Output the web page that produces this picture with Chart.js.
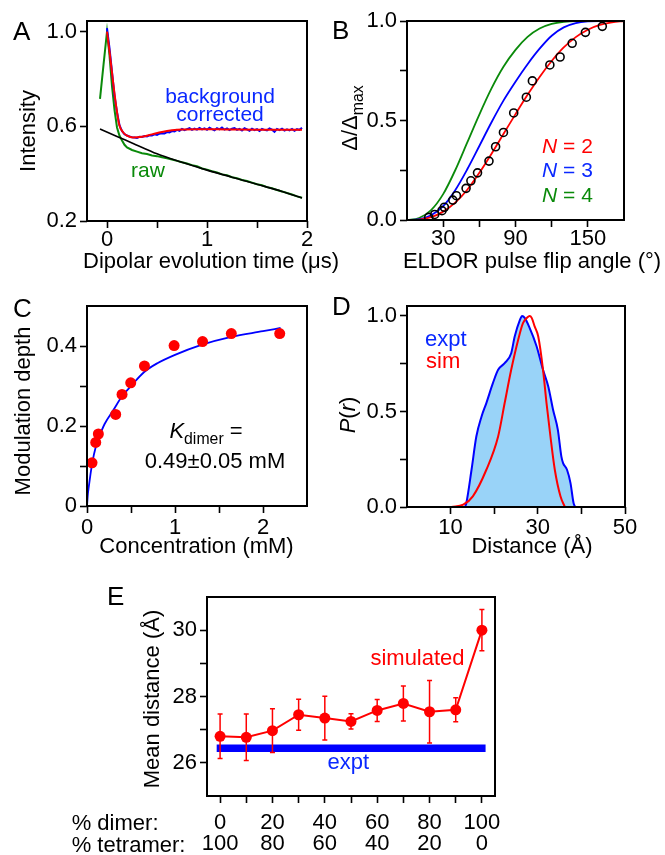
<!DOCTYPE html>
<html>
<head>
<meta charset="utf-8">
<title>DEER analysis panels</title>
<script src="https://cdn.jsdelivr.net/npm/chart.js@4.4.1/dist/chart.umd.min.js"></script>
<style>
  html, body { margin: 0; padding: 0; background: #fff; }
  #fig { position: relative; width: 665px; height: 855px; overflow: hidden; background: #fff; }
  #fig canvas { position: absolute; left: 0; top: 0; }
</style>
</head>
<body>
<div id="fig"></div>
<script>
// ===== Panel A: dipolar evolution traces (time in µs) =====
const rawTime = [-0.07,-0.035,0,0.025,0.05,0.075,0.1,0.125,0.15,0.175,0.2,0.25,0.3,0.35,0.4,0.45,0.5,0.55,0.6,0.65,0.7,0.75,0.8,0.85,0.9,0.95,1.0,1.05,1.1,1.15,1.2,1.25,1.3,1.35,1.4,1.45,1.5,1.55,1.6,1.65,1.7,1.75,1.8,1.85,1.9,1.95];
const rawIntensity = [0.716,0.86,1.0,0.9,0.77,0.67,0.595,0.56,0.54,0.522,0.511,0.5,0.493,0.486,0.483,0.477,0.474,0.469,0.465,0.46,0.454,0.448,0.443,0.436,0.431,0.422,0.417,0.41,0.405,0.397,0.393,0.385,0.381,0.373,0.369,0.362,0.355,0.351,0.343,0.338,0.331,0.325,0.318,0.312,0.304,0.298];
const baselineTime = [-0.07,0.1,0.25,0.5,0.75,1.0,1.25,1.5,1.75,1.95];
const baselineIntensity = [0.589,0.557,0.53,0.484,0.448,0.415,0.385,0.355,0.325,0.297];
const correctedTime = [0,0.025,0.05,0.075,0.1,0.125,0.15,0.175,0.2,0.225,0.25,0.275,0.3,0.325,0.35,0.375,0.4,0.425,0.45,0.475,0.5,0.525,0.55,0.575,0.6,0.625,0.65,0.675,0.7,0.725,0.75,0.775,0.8,0.825,0.85,0.875,0.9,0.925,0.95,0.975,1.0,1.025,1.05,1.075,1.1,1.125,1.15,1.175,1.2,1.225,1.25,1.275,1.3,1.325,1.35,1.375,1.4,1.425,1.45,1.475,1.5,1.525,1.55,1.575,1.6,1.625,1.65,1.675,1.7,1.725,1.75,1.775,1.8,1.825,1.85,1.875,1.9,1.925,1.95];
const correctedIntensity = [1.015,0.93,0.83,0.73,0.66,0.605,0.58,0.567,0.561,0.557,
  0.554,0.553,0.551,0.556,0.555,0.559,0.557,0.562,0.561,0.566,
  0.564,0.569,0.571,0.57,0.576,0.574,0.58,0.578,0.585,0.581,
  0.589,0.584,0.588,0.592,0.585,0.59,0.586,0.593,0.587,0.591,
  0.585,0.594,0.588,0.583,0.592,0.587,0.595,0.586,0.591,0.584,
  0.59,0.593,0.585,0.589,0.582,0.592,0.587,0.581,0.59,0.584,
  0.588,0.58,0.589,0.585,0.583,0.591,0.586,0.577,0.589,0.584,
  0.59,0.582,0.587,0.583,0.589,0.581,0.588,0.585,0.594];
const fitTime = [0,0.03,0.06,0.09,0.12,0.16,0.2,0.26,0.35,0.45,0.55,0.65,0.75,0.9,1.2,1.5,1.95];
const fitIntensity = [1.0,0.9,0.79,0.69,0.61,0.575,0.561,0.553,0.556,0.566,0.576,0.583,0.587,0.588,0.587,0.586,0.586];
const timeTicks = [0, 0.5, 1, 1.5, 2];
const timeTickLabels = ['0', '', '1', '', '2'];
const intensityTicks = [0.2, 0.6, 1.0];
const intensityTickLabels = ['0.2', '0.6', '1.0'];

// ===== Panel B: modulation depth vs ELDOR flip angle =====
const flipAngleCurve = [0,10,20,30,40,50,60,70,80,90,100,110,120,130,140,150,160,170,180];
const depthN2 = [0,0.002,0.014,0.042,0.087,0.152,0.237,0.332,0.432,0.532,0.629,0.719,0.799,0.867,0.919,0.956,0.98,0.993,1.0];
const depthN3 = [0,0.004,0.024,0.07,0.15,0.255,0.372,0.49,0.6,0.695,0.783,0.861,0.926,0.968,0.989,0.998,1.0,1.0,1.0];
const depthN4 = [0,0.01,0.05,0.13,0.25,0.39,0.53,0.66,0.77,0.855,0.92,0.962,0.985,0.996,1.0,1.0,1.0,1.0,1.0];
const flipAngleExpt = [18,23,29,31,38,41,49,53,58.5,68,73.5,80,88.5,99,104,118.5,127,137,148,162];
const depthExpt = [0.013,0.028,0.047,0.064,0.10,0.122,0.159,0.197,0.237,0.296,0.368,0.44,0.538,0.617,0.699,0.779,0.819,0.888,0.943,0.973];
const angleTicks = [30, 60, 90, 120, 150];
const angleTickLabels = ['30', '', '90', '', '150'];
const ratioTicks = [0, 0.25, 0.5, 0.75, 1];
const ratioTickLabels = ['0.0', '', '0.5', '', '1.0'];

// ===== Panel C: modulation depth vs concentration =====
const concentration = [0.057,0.099,0.129,0.326,0.398,0.497,0.653,0.99,1.313,1.64,2.19];
const modDepth = [0.108,0.159,0.18,0.229,0.279,0.308,0.35,0.401,0.411,0.431,0.431];
const concentrationFit = [0,0.01,0.02,0.04,0.06,0.1,0.13,0.2,0.3,0.4,0.5,0.65,0.8,1.0,1.3,1.64,2.0,2.2];
const modDepthFit = [0,0.03,0.048,0.08,0.108,0.148,0.168,0.205,0.24,0.275,0.3,0.335,0.357,0.378,0.403,0.423,0.437,0.445];
const concTicks = [0, 0.5, 1, 1.5, 2];
const concTickLabels = ['0', '', '1', '', '2'];
const depthTicks = [0, 0.1, 0.2, 0.3, 0.4];
const depthTickLabels = ['0', '', '0.2', '', '0.4'];

// ===== Panel D: distance distributions =====
const distanceExpt = [13.3,13.6,14.8,15.9,17.1,18.2,19.7,20.9,22.4,23.9,24.7,25.9,26.4,27.0,28.0,29.7,31.2,32.4,33.5,34.6,35.4,35.8,36.7,37.5,38.2,38.6];
const probExpt = [0,0.02,0.195,0.369,0.474,0.544,0.648,0.718,0.753,0.805,0.892,0.979,1.0,0.99,0.944,0.843,0.718,0.631,0.509,0.404,0.265,0.23,0.195,0.125,0.021,0];
const distanceSim = [10.2,12.9,15.1,18.2,20.9,22.4,23.9,25.5,26.6,27.6,28.1,28.6,29.3,30.1,31.2,32.0,32.9,33.9,35.2,36.2];
const probSim = [0,0.012,0.056,0.195,0.369,0.544,0.718,0.875,0.962,0.992,1.0,0.99,0.944,0.892,0.718,0.544,0.369,0.195,0.056,0];
const distTicks = [10, 20, 30, 40, 50];
const distTickLabels = ['10', '', '30', '', '50'];
const probTicks = [0, 0.25, 0.5, 0.75, 1];
const probTickLabels = ['0.0', '', '0.5', '', '1.0'];

// ===== Panel E: mean distance vs dimer/tetramer mixture =====
const dimerPercent = [0,10,20,30,40,50,60,70,80,90,100];
const meanDistance = [26.8,26.77,26.97,27.45,27.35,27.25,27.58,27.79,27.54,27.6,30.0];
const meanDistanceErr = [0.67,0.7,0.66,0.47,0.66,0.23,0.33,0.53,0.94,0.36,0.62];
const exptMeanDistance = 26.44;
const exptSpan = [-1.3, 101.4];
const mixTicks = [0,10,20,30,40,50,60,70,80,90,100];
const dimerTickLabels = ['0','','20','','40','','60','','80','','100'];
const tetramerTickLabels = ['100','','80','','60','','40','','20','','0'];
const meanTicks = [26, 27, 28, 29, 30];
const meanTickLabels = ['26', '', '28', '', '30'];

// ---------------------------------------------------------------
const W = 665, H = 855;
const FONT = '"Liberation Sans", Arial, Helvetica, sans-serif';
const RED = '#ff0000', BLUE = '#0000ff', GREEN = '#0a8a0a', TXTBLUE = '#0a28ff';
const fig = document.getElementById('fig');

const pts = (xs, ys) => xs.map((x, i) => ({ x, y: ys[i] }));
const fontStr = (size, italic) => (italic ? 'italic ' : '') + size + 'px ' + FONT;

// draws a label made of plain / italic / subscript runs
function drawRich(ctx, it) {
  const size = it.size || 22;
  const segs = it.segs || [{ t: it.text }];
  const parts = segs.map(s => {
    const sz = s.sub ? size * 0.72 : size;
    ctx.font = fontStr(sz, s.it);
    return Object.assign({}, s, { sz, w: ctx.measureText(s.t).width });
  });
  const total = parts.reduce((a, p) => a + p.w, 0);
  ctx.save();
  ctx.translate(it.x, it.y);
  if (it.rot) ctx.rotate(-Math.PI / 2);
  let x0 = it.align === 'left' ? 0 : -total / 2;
  ctx.fillStyle = it.color || '#000';
  ctx.textAlign = 'left';
  ctx.textBaseline = 'alphabetic';
  for (const p of parts) {
    ctx.font = fontStr(p.sz, p.it);
    ctx.fillText(p.t, x0, p.sub ? size * 0.28 : 0);
    x0 += p.w;
  }
  ctx.restore();
}

const framePlugin = {
  id: 'frame',
  afterDraw(chart) {
    const { ctx, chartArea: a } = chart;
    ctx.save();
    ctx.strokeStyle = '#000';
    ctx.lineWidth = 2;
    ctx.strokeRect(a.left, a.top, a.right - a.left, a.bottom - a.top);
    ctx.restore();
  }
};

const textPlugin = {
  id: 'texts',
  afterDraw(chart, args, opts) {
    (opts.items || []).forEach(it => drawRich(chart.ctx, it));
  }
};

// vertical error bars drawn just beneath the dataset they belong to
const errorBarPlugin = {
  id: 'errorBars',
  beforeDatasetDraw(chart, args, opts) {
    if (args.index !== opts.datasetIndex) return;
    const { ctx, scales: { x, y } } = chart;
    ctx.save();
    ctx.strokeStyle = opts.color;
    ctx.lineWidth = 1.5;
    opts.xs.forEach((v, i) => {
      const px = x.getPixelForValue(v);
      const top = y.getPixelForValue(opts.ys[i] + opts.err[i]);
      const bot = y.getPixelForValue(opts.ys[i] - opts.err[i]);
      ctx.beginPath();
      ctx.moveTo(px, top); ctx.lineTo(px, bot);
      ctx.moveTo(px - 2.5, top); ctx.lineTo(px + 2.5, top);
      ctx.moveTo(px - 2.5, bot); ctx.lineTo(px + 2.5, bot);
      ctx.stroke();
    });
    ctx.restore();
  }
};

function axis(min, max, ticks, labels, pad, lineHeight) {
  return {
    type: 'linear', min, max,
    afterBuildTicks: s => { s.ticks = ticks.map(v => ({ value: v })); },
    ticks: {
      autoSkip: false, maxRotation: 0, minRotation: 0, padding: pad, color: '#000',
      font: { family: FONT, size: 22, lineHeight: lineHeight || 1 },
      callback: (v, i) => labels[i]
    },
    grid: { drawOnChartArea: false, drawTicks: true, tickLength: 7, tickWidth: 1.6, tickColor: '#000', color: '#000' },
    border: { display: false }
  };
}

function panel(box, xAxis, yAxis, datasets, texts, extra) {
  const c = document.createElement('canvas');
  c.width = W; c.height = H;
  c.style.width = W + 'px'; c.style.height = H + 'px';
  fig.appendChild(c);
  xAxis.afterFit = s => { s.height = H - box.b; };
  yAxis.afterFit = s => { s.width = box.l; };
  const pluginOpts = { legend: { display: false }, tooltip: { enabled: false }, texts: { items: texts } };
  const plugins = [framePlugin, textPlugin];
  if (extra) { pluginOpts.errorBars = extra; plugins.push(errorBarPlugin); }
  return new Chart(c, {
    type: 'scatter',
    data: { datasets },
    options: {
      responsive: false, animation: false, devicePixelRatio: 1, events: [],
      layout: { padding: { left: 0, top: box.t, right: W - box.r, bottom: 0 } },
      plugins: pluginOpts,
      scales: { x: xAxis, y: yAxis }
    },
    plugins
  });
}

const line = (data, color, width, extra) => Object.assign({
  data, showLine: true, borderColor: color, borderWidth: width, pointRadius: 0, fill: false
}, extra || {});

// ---- A ----
panel({ l: 87, r: 307, t: 21, b: 221 },
  axis(-0.2, 2.0, timeTicks, timeTickLabels, 1),
  axis(0.2, 1.045, intensityTicks, intensityTickLabels, 3),
  [
    line(pts(fitTime, fitIntensity), RED, 2, { cubicInterpolationMode: 'monotone' }),
    line(pts(correctedTime, correctedIntensity), BLUE, 2),
    line(pts(baselineTime, baselineIntensity), '#000', 1.6, { cubicInterpolationMode: 'monotone' }),
    line(pts(rawTime, rawIntensity), GREEN, 2)
  ],
  [
    { text: 'A', x: 13, y: 40, size: 26, align: 'left' },
    { segs: [{ t: 'Dipolar evolution time (μs)' }], x: 211, y: 268 },
    { text: 'Intensity', x: 35, y: 131, rot: true },
    { text: 'background', x: 220, y: 102.5, size: 21, color: TXTBLUE },
    { text: 'corrected', x: 220, y: 121, size: 21, color: TXTBLUE },
    { text: 'raw', x: 148, y: 176.5, size: 21, color: GREEN }
  ]);

// ---- B ----
panel({ l: 407, r: 624, t: 21, b: 220 },
  axis(0, 180, angleTicks, angleTickLabels, 1),
  axis(0, 1, ratioTicks, ratioTickLabels, 3),
  [
    { data: pts(flipAngleExpt, depthExpt), pointRadius: 4, pointBorderWidth: 1.6,
      pointBorderColor: '#000', pointBackgroundColor: 'rgba(0,0,0,0)', showLine: false },
    line(pts(flipAngleCurve, depthN2), RED, 1.8, { cubicInterpolationMode: 'monotone' }),
    line(pts(flipAngleCurve, depthN3), BLUE, 1.8, { cubicInterpolationMode: 'monotone' }),
    line(pts(flipAngleCurve, depthN4), GREEN, 1.8, { cubicInterpolationMode: 'monotone' })
  ],
  [
    { text: 'B', x: 332, y: 38.5, size: 26, align: 'left' },
    { text: 'ELDOR pulse flip angle (°)', x: 532, y: 268 },
    { segs: [{ t: 'Δ/Δ' }, { t: 'max', sub: true }], x: 357, y: 118, rot: true },
    { segs: [{ t: 'N', it: true }, { t: ' = 2' }], x: 567.5, y: 153.3, size: 21, color: RED },
    { segs: [{ t: 'N', it: true }, { t: ' = 3' }], x: 567.5, y: 176.7, size: 21, color: TXTBLUE },
    { segs: [{ t: 'N', it: true }, { t: ' = 4' }], x: 567.5, y: 201.5, size: 21, color: GREEN }
  ]);

// ---- C ----
panel({ l: 87, r: 307, t: 306, b: 506 },
  axis(0, 2.5, concTicks, concTickLabels, 3.5),
  axis(0, 0.5, depthTicks, depthTickLabels, 3),
  [
    { data: pts(concentration, modDepth), pointRadius: 5.5, pointBorderWidth: 0,
      pointBackgroundColor: RED, showLine: false },
    line(pts(concentrationFit, modDepthFit), BLUE, 1.8, { cubicInterpolationMode: 'monotone' })
  ],
  [
    { text: 'C', x: 13, y: 316.7, size: 26, align: 'left' },
    { text: 'Concentration (mM)', x: 196.5, y: 553.3 },
    { text: 'Modulation depth', x: 29.5, y: 411, rot: true },
    { segs: [{ t: 'K', it: true }, { t: 'dimer', sub: true }, { t: ' =' }], x: 206, y: 438.3 },
    { text: '0.49±0.05 mM', x: 215, y: 468.3 }
  ]);

// ---- D ----
panel({ l: 407, r: 625, t: 306, b: 507 },
  axis(0, 50, distTicks, distTickLabels, 2.5),
  axis(0, 1.052, probTicks, probTickLabels, 3),
  [
    line(pts(distanceSim, probSim), RED, 2, { cubicInterpolationMode: 'monotone' }),
    line(pts(distanceExpt, probExpt), BLUE, 2, {
      cubicInterpolationMode: 'monotone', fill: 'origin', backgroundColor: '#99d3f8'
    })
  ],
  [
    { text: 'D', x: 332, y: 315, size: 26, align: 'left' },
    { text: 'Distance (Å)', x: 532, y: 553.3 },
    { segs: [{ t: 'P', it: true }, { t: '(' }, { t: 'r', it: true }, { t: ')' }], x: 355, y: 415, rot: true },
    { text: 'expt', x: 425, y: 346, align: 'left', color: TXTBLUE },
    { text: 'sim', x: 426, y: 368.3, align: 'left', color: RED }
  ]);

// ---- E ----
const mixAxis = axis(-5, 105, mixTicks, mixTicks.map((v, i) =>
  dimerTickLabels[i] === '' ? '' : [dimerTickLabels[i], tetramerTickLabels[i]]), 8.75, 0.977);
panel({ l: 207, r: 495, t: 597, b: 796 },
  mixAxis,
  axis(25, 31, meanTicks, meanTickLabels, 3),
  [
    line(pts(dimerPercent, meanDistance), RED, 2, {
      pointRadius: 5.5, pointBorderWidth: 0, pointBackgroundColor: RED
    }),
    line(pts(exptSpan, [exptMeanDistance, exptMeanDistance]), BLUE, 7.3, { borderCapStyle: 'butt' })
  ],
  [
    { text: 'E', x: 107, y: 605, size: 26, align: 'left' },
    { text: 'Mean distance (Å)', x: 159, y: 699, rot: true },
    { text: 'simulated', x: 417.5, y: 665, color: RED },
    { text: 'expt', x: 348.3, y: 769, color: TXTBLUE },
    { text: '% dimer:', x: 71.7, y: 830, align: 'left' },
    { text: '% tetramer:', x: 71.7, y: 851.5, align: 'left' }
  ],
  { datasetIndex: 0, xs: dimerPercent, ys: meanDistance, err: meanDistanceErr, color: RED });
</script>
</body>
</html>
